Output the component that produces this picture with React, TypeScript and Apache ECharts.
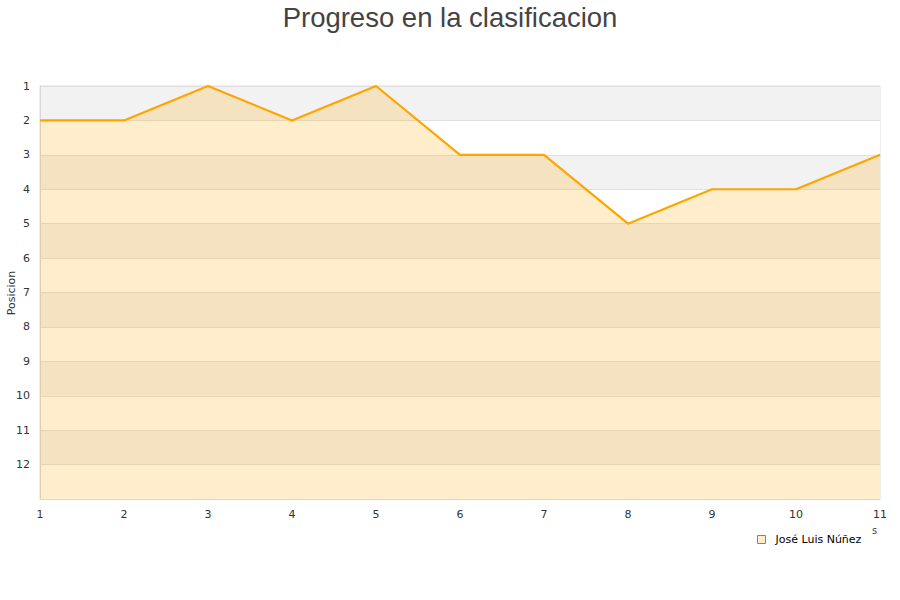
import React, { useEffect, useRef } from "react";
import * as echarts from "echarts";

const jornadas = [1, 2, 3, 4, 5, 6, 7, 8, 9, 10, 11];
const posiciones = [2, 2, 1, 2, 1, 3, 3, 5, 4, 4, 3];
const seriesName = "José Luis Núñez";
const titleText = "Progreso en la clasificacion";
const yAxisName = "Posicion";

export default function App() {
  const ref = useRef<HTMLDivElement>(null);
  useEffect(() => {
    if (!ref.current) return;
    const chart = echarts.init(ref.current, null, { renderer: "svg" });
    chart.setOption({
      animation: false,
      title: {
        text: titleText,
        left: "center",
        top: -2,
        textStyle: {
          fontFamily: "Liberation Sans",
          fontSize: 27.5,
          fontWeight: "normal",
          color: "#444444",
        },
      },
      legend: {
        left: 752,
        top: 529,
        itemWidth: 8,
        itemHeight: 8,
        itemGap: 10,
        textStyle: { fontFamily: "DejaVu Sans", fontSize: 11, color: "#000", padding: [0, 0, 0, 5] },
        data: [
          {
            name: seriesName,
            icon: "rect",
            itemStyle: { color: "#ffedcc", borderColor: "#a08050", borderWidth: 1 },
          },
        ],
      },
      grid: {
        left: 40,
        right: 20,
        top: 86,
        bottom: 101,
        containLabel: false,
        outerBoundsMode: "none",
        show: true,
        borderColor: "#dddddd",
        borderWidth: 1,
        backgroundColor: "transparent",
      },
      xAxis: {
        type: "value",
        min: 1,
        max: 11,
        interval: 1,
        axisLine: { show: true, lineStyle: { color: "#d8d8d8" } },
        axisTick: { show: false },
        splitLine: { show: false },
        axisLabel: {
          fontFamily: "DejaVu Sans",
          fontSize: 11,
          color: "#333",
          margin: 10,
        },
      },
      yAxis: {
        type: "value",
        inverse: true,
        min: 1,
        max: 13,
        interval: 1,
        axisLine: { show: true, lineStyle: { color: "#d8d8d8" } },
        axisTick: { show: false },
        axisLabel: {
          fontFamily: "DejaVu Sans",
          fontSize: 11,
          color: "#333",
          margin: 10,
          formatter: (v: number) => (v === 13 ? "" : String(v)),
        },
        splitLine: { show: true, lineStyle: { color: "#e0e0e0" } },
        splitArea: { show: true, areaStyle: { color: ["#f2f2f2", "#ffffff"] } },
      },
      graphic: [
        {
          type: "text",
          x: 11,
          y: 293,
          rotation: Math.PI / 2,
          style: {
            text: yAxisName,
            fontFamily: "DejaVu Sans",
            fontSize: 11,
            fill: "#333",
            align: "center",
            verticalAlign: "middle",
          },
        },
        {
          type: "text",
          left: 872,
          top: 525,
          style: { text: "s", fontFamily: "DejaVu Sans", fontSize: 10, fill: "#444" },
        },
      ],
      series: [
        {
          name: seriesName,
          type: "line",
          data: jornadas.map((j, i) => [j, posiciones[i]]),
          showSymbol: false,
          symbol: "none",
          lineStyle: { color: "#ffa500", width: 2.2 },
          itemStyle: { color: "#ffa500" },
          areaStyle: { color: "#ffa500", opacity: 0.2, origin: "end" },
        },
      ],
    });
    return () => chart.dispose();
  }, []);
  return <div ref={ref} style={{ width: 900, height: 600, position: "absolute", left: 0, top: 0 }} />;
}
